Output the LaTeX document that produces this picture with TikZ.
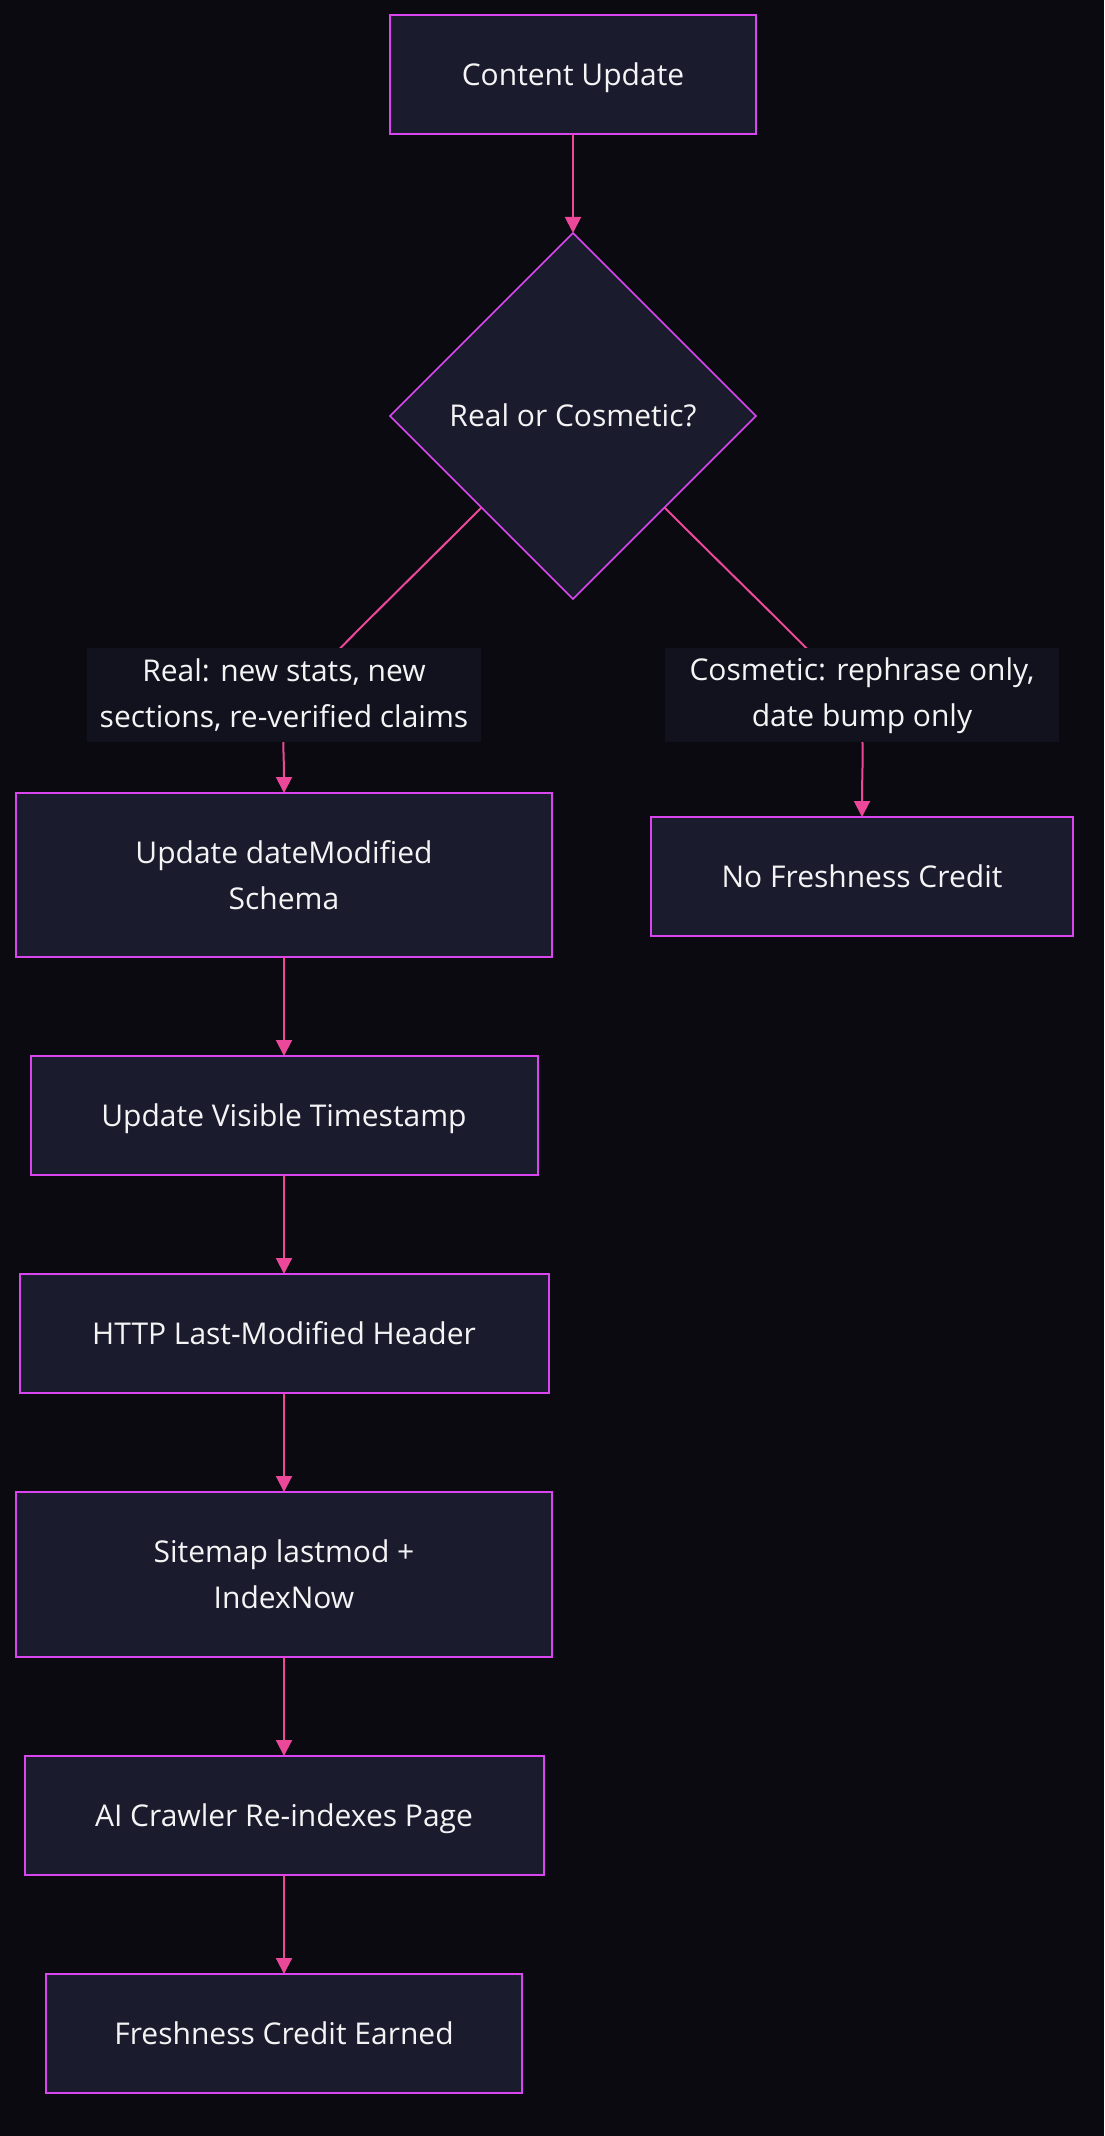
\documentclass[tikz,border=0pt]{standalone}
\usepackage{fontspec}
\setmainfont{Open Sans}
\usetikzlibrary{arrows.meta, positioning, shapes.geometric}
\definecolor{pagebg}{HTML}{0B0A10}
\definecolor{boxfill}{HTML}{1B1B2E}
\definecolor{boxline}{HTML}{D946EF}
\definecolor{flow}{HTML}{EC4899}
\definecolor{labelfill}{HTML}{12111E}
\definecolor{ink}{HTML}{F4F4F5}
\tikzstyle{flowchart}=[>={Triangle[length=8pt,width=8pt]}, node distance=49.5pt, font=\fontsize{15pt}{23pt}\selectfont, text=ink]
\tikzstyle{block}=[draw=boxline, fill=boxfill, line width=1pt, minimum height=59.5pt, align=center, inner sep=0pt, outer sep=0pt, text height=11pt, text depth=0.3pt]
\tikzstyle{tall}=[text height=, text depth=, minimum height=82pt]
\tikzstyle{choice}=[draw=boxline, fill=boxfill, line width=0.8pt, diamond, minimum size=183pt, inner sep=0pt, outer sep=0pt, text height=11pt, text depth=0.3pt]
\tikzstyle{link}=[draw=flow, line width=1pt]
\tikzstyle{guard}=[fill=labelfill, minimum width=197pt, minimum height=47pt, align=center, inner sep=0pt]

\begin{document}
\begin{tikzpicture}[flowchart]
  \fill[pagebg] (0,0) rectangle (552pt,-1068pt);
  \node[block,minimum width=183pt] (0) at (286.5pt,-37.25pt) {Content Update};
  \node[choice] (1) [below=of 0] {Real or Cosmetic?};
  \node[block,tall,minimum width=268pt] (2) [below=97pt of 1, xshift=-144.5pt] {Update dateModified\\Schema};
  \node[block,minimum width=211pt] (3) [below=109pt of 1, xshift=144.5pt] {No Freshness Credit};
  \node[block,minimum width=253.5pt] (4) [below=of 2] {Update Visible Timestamp};
  \node[block,minimum width=264.5pt] (5) [below=of 4] {HTTP Last-Modified Header};
  \node[block,tall,minimum width=268pt,minimum height=82.5pt] (6) [below=of 5] {Sitemap lastmod +\\IndexNow};
  \node[block,minimum width=259.5pt] (7) [below=of 6] {AI Crawler Re-indexes Page};
  \node[block,minimum width=238pt] (8) [below=of 7] {Freshness Credit Earned};
  \path[->] (0) edge[link] (1);
  \path[->] (1.south west) edge[link, out=-135, in=90, out distance=156pt, in distance=50.5pt] node[guard, xshift=-8pt] {Real: new stats, new\\sections, re-verified claims} (2);
  \path[->] (1.south east) edge[link, out=-45, in=90, out distance=156pt, in distance=66pt] node[guard, xshift=8pt] {Cosmetic: rephrase only,\\date bump only} (3);
  \path[->] (2) edge[link] (4);
  \path[->] (4) edge[link] (5);
  \path[->] (5) edge[link] (6);
  \path[->] (6) edge[link] (7);
  \path[->] (7) edge[link] (8);
\end{tikzpicture}
\end{document}
